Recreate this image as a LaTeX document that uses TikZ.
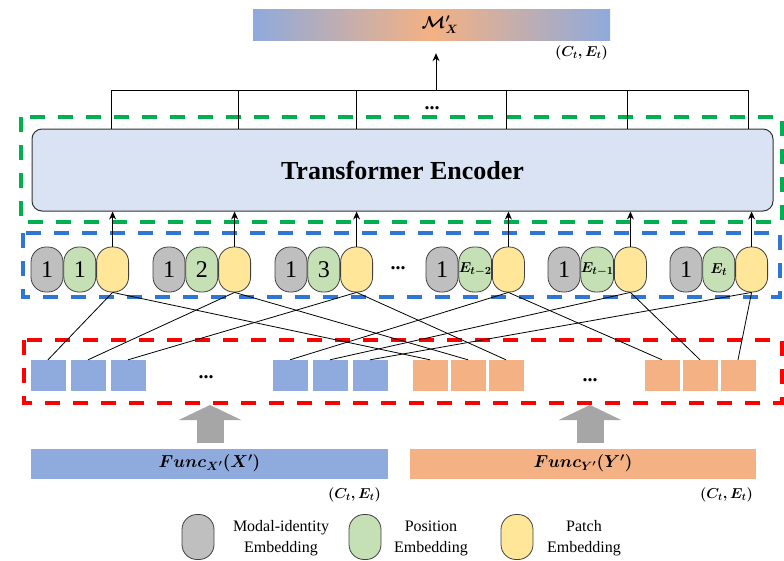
\documentclass[tikz,border=0pt]{standalone}
\usepackage{fontspec}
\setmainfont{Liberation Serif}
\usepackage{amsmath,amssymb}
\usetikzlibrary{positioning,shapes,arrows.meta}
\definecolor{xblue}{HTML}{8FAADC}
\definecolor{ypeach}{HTML}{F4B183}
\definecolor{encfill}{HTML}{DAE3F3}
\definecolor{modalgray}{HTML}{BFBFBF}
\definecolor{posgreen}{HTML}{C5E0B4}
\definecolor{patchyellow}{HTML}{FFE699}
\definecolor{dashgreen}{HTML}{00B050}
\definecolor{dashblue}{HTML}{2E75D6}
\definecolor{dashred}{HTML}{FF0000}
\newcommand{\posidx}[1]{{\fontsize{15}{15}\selectfont$\boldsymbol{E_{#1}}$}}
\tikzset{
	token/.style={
		rectangle,
		rounded corners=15pt,
		minimum width=32pt,
		minimum height=45pt,
		inner sep=0pt,
		draw=black!75,
		line width=0.8pt,
		font=\fontsize{24}{24}\selectfont
	},
	modal/.style={token, fill=modalgray},
	posn/.style={token, fill=posgreen},
	patch/.style={token, fill=patchyellow},
	xsquare/.style={rectangle, minimum width=35pt, minimum height=31pt, inner sep=0pt, fill=xblue},
	ysquare/.style={xsquare, fill=ypeach},
	dashbox/.style={line width=3.5pt, dash pattern=on 15pt off 13pt},
	encoder/.style={
		rectangle,
		rounded corners=10pt,
		minimum width=741pt,
		minimum height=82pt,
		fill=encfill,
		draw=black!80,
		line width=1pt,
		font=\fontsize{26}{26}\selectfont\bfseries
	},
	dots/.style={font=\fontsize{20}{20}\selectfont\bfseries, inner sep=0pt},
	funcbar/.style={rectangle, minimum height=30pt, inner sep=0pt, font=\fontsize{18}{18}\selectfont},
	dimlabel/.style={font=\fontsize{14}{14}\selectfont, inner sep=0pt},
	fatarrow/.style={draw=black!35, line width=27pt, -{Triangle[length=15pt,width=62pt]}},
	legendtext/.style={align=center, font=\fontsize{16}{21}\selectfont, inner sep=0pt}
}
\begin{document}
\begin{tikzpicture}[x=1pt, y=-1pt, >={Stealth[length=8pt,width=7pt]}]
	\useasboundingbox (0,0) rectangle (784,560);
	\node[rectangle, minimum width=357pt, minimum height=31pt, left color=xblue, right color=xblue, middle color=ypeach] (out) at (431.5,24.5) {};
	\node[font=\fontsize{18}{18}\selectfont, inner sep=0pt] (outname) at (440,24.5) {$\boldsymbol{\mathcal{M}_X'}$};
	\node[dimlabel, anchor=east] (outdim) at (608,53) {$\boldsymbol{(C_t, E_t)}$};
	\draw[dashbox, dashgreen] (21,117) rectangle (782,222);
	\draw[dashbox, dashblue] (23,233) rectangle (780,297);
	\draw[dashbox, dashred] (24,340) rectangle (782,403);
	\node[encoder] (enc) at (402.5,170) {Transformer Encoder};
	\foreach \i/\x in {1/111,2/238,3/356,4/506,5/627,6/748}
		\coordinate (t\i) at (\x,90);
	\coordinate (tc) at (436,90);
	\draw (t1) -- (t6);
	\foreach \i in {1,...,6}
		\draw (t\i) -- (t\i |- enc.north);
	\draw[->, line width=1pt] (tc) -- ([yshift=-13pt]out.south -| tc);
	\node[dots] (topdots) at (432,108) {...};
	\foreach \i/\x/\lab in {1/47/1, 2/169/2, 3/291/3, 4/442/\posidx{t-2}, 5/564/\posidx{t-1}, 6/686/\posidx{t}} {
		\node[modal] (m\i) at (\x,269.5) {1};
		\node[posn, right=0pt of m\i] (p\i) {\lab};
		\node[patch, right=0pt of p\i] (y\i) {};
		\draw[->, line width=0.9pt] (y\i.north) -- (y\i.north |- enc.south);
	}
	\node[dots] (gdots) at (398,268) {...};
	\foreach \i/\x in {1/48,2/88,3/128,4/290,5/330,6/370}
		\node[xsquare] (b\i) at (\x,375.5) {};
	\foreach \i/\x in {1/430,2/468,3/506,4/662,5/700,6/738}
		\node[ysquare] (o\i) at (\x,375.5) {};
	\node[dots] (bdots) at (206,377) {...};
	\node[dots] (odots) at (590,380) {...};
	\foreach \i in {1,...,6} {
		\draw[line width=0.8pt] (y\i.south) -- (b\i.north);
		\draw[line width=0.8pt] (y\i.south) -- (o\i.north);
	}
	\node[funcbar, fill=xblue, minimum width=357pt] (fx) at (209.5,463.5) {$\boldsymbol{Func_{X'}(X')}$};
	\node[funcbar, fill=ypeach, minimum width=346pt] (fy) at (583,463.5) {$\boldsymbol{Func_{Y'}(Y')}$};
	\node[dimlabel, anchor=east] (fxdim) at (381,495) {$\boldsymbol{(C_t, E_t)}$};
	\node[dimlabel, anchor=east] (fydim) at (753,495) {$\boldsymbol{(C_t, E_t)}$};
	\coordinate (fxtip) at (210,405);
	\coordinate (fxbase) at (210,443);
	\coordinate (fytip) at (590,405);
	\coordinate (fybase) at (590,443);
	\draw[fatarrow] (fxbase) -- (fxtip);
	\draw[fatarrow] (fybase) -- (fytip);
	\node[modal] (lm) at (198,537) {};
	\node[legendtext] (lmt) at (281,538) {Modal-identity\\Embedding};
	\node[posn] (lp) at (365,537) {};
	\node[legendtext] (lpt) at (431,538) {Position\\Embedding};
	\node[patch] (ly) at (517,537) {};
	\node[legendtext] (lyt) at (584,538) {Patch\\Embedding};
\end{tikzpicture}
\end{document}
